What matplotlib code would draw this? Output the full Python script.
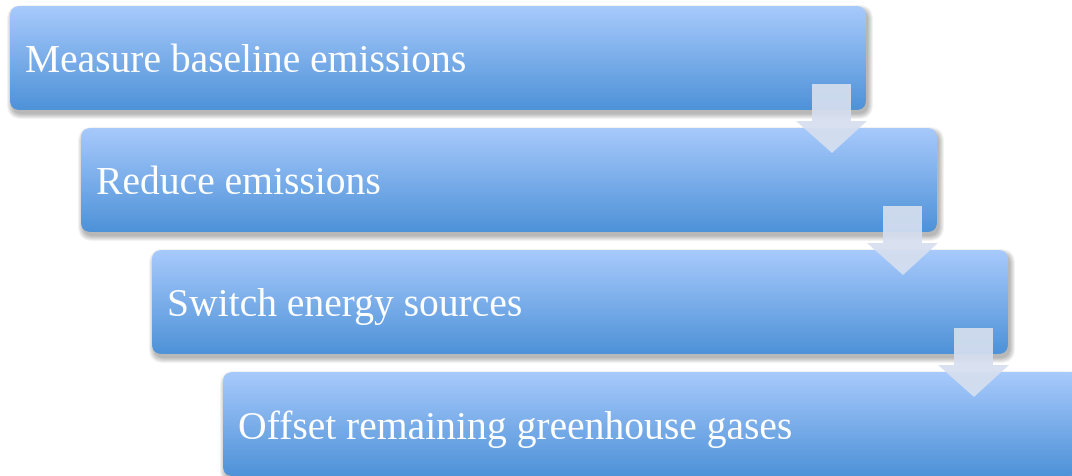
import numpy as np
import matplotlib
matplotlib.use("Agg")
import matplotlib.pyplot as plt
from matplotlib.patches import FancyBboxPatch, Polygon
from matplotlib.colors import to_rgb

# steps of the process, top to bottom
steps = ["Measure baseline emissions",
         "Reduce emissions",
         "Switch energy sources",
         "Offset remaining greenhouse gases"]

top_color = "#a8cafc"
bottom_color = "#4e92d8"
arrow_color = "#d6dfef"

W, H = 1072, 477
fig = plt.figure(figsize=(W / 100, H / 100), dpi=100)
ax = fig.add_axes([0, 0, 1, 1])
ax.axis("off")

box_w, box_h = 856, 104
dx, dy = 71, 122
x_start, y_start = 10, 7

grad = np.linspace(0, 1, 256)[:, None, None]
c0 = np.array(to_rgb(top_color))
c1 = np.array(to_rgb(bottom_color))
img = (1 - grad) * c0 + grad * c1

for i, label in enumerate(steps):
    x0 = x_start + dx * i
    y0 = y_start + dy * i
    # soft shadow
    for k in range(6):
        sh = FancyBboxPatch((x0 + 2 - k, y0 + 4 - k), box_w + 2 * k, box_h + 2 * k,
                            boxstyle="round,pad=0,rounding_size=%d" % (10 + k),
                            fc="black", ec="none", alpha=0.05, zorder=1 + 3 * i)
        ax.add_patch(sh)
    box = FancyBboxPatch((x0, y0), box_w, box_h,
                         boxstyle="round,pad=0,rounding_size=10",
                         fc="none", ec="none", zorder=2 + 3 * i)
    ax.add_patch(box)
    im = ax.imshow(img, extent=(x0, x0 + box_w, y0 + box_h, y0), origin="upper",
                   aspect="auto", interpolation="bilinear", zorder=2 + 3 * i)
    im.set_clip_path(box)
    ax.text(x0 + 15, y0 + box_h / 2 + 4, label, color="white", fontsize=28.5,
            family="Liberation Serif", va="center", ha="left", zorder=3 + 3 * i)

# arrows between the steps
for i in range(len(steps) - 1):
    x0 = x_start + dx * i + 802
    y0 = y_start + dy * i + 78
    shaft = [(x0, y0), (x0 + 39, y0),
             (x0 + 39, y0 + 37), (x0 + 55, y0 + 37),
             (x0 + 20, y0 + 69), (x0 - 16, y0 + 37), (x0, y0 + 37)]
    ax.add_patch(Polygon(shaft, closed=True, fc=arrow_color, ec="none",
                         alpha=0.92, zorder=50))

ax.set_xlim(0, W)
ax.set_ylim(H, 0)
fig.savefig("out.png", dpi=100)
